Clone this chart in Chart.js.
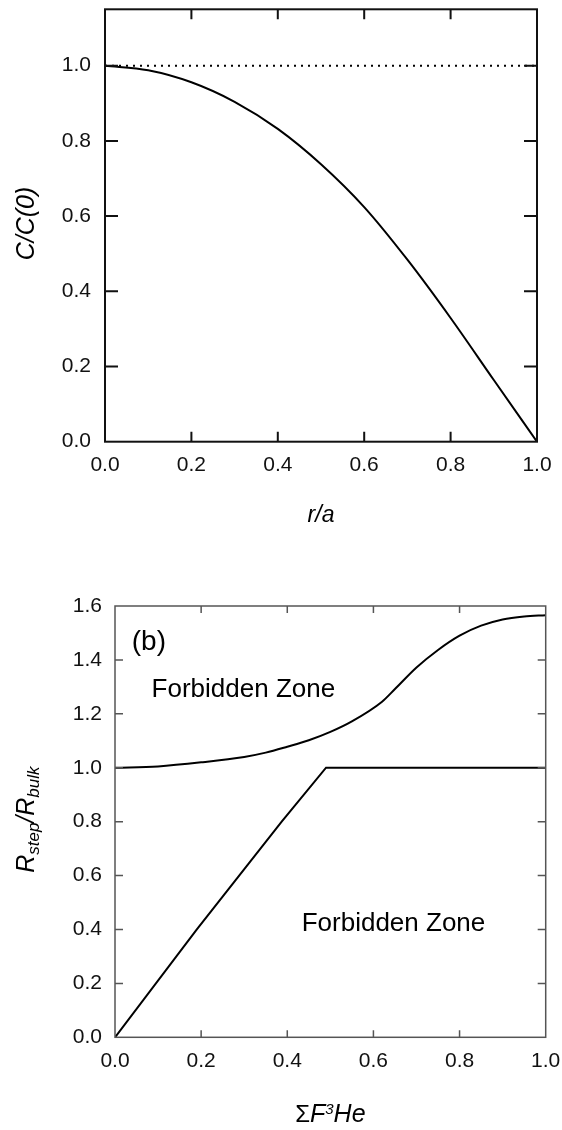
<!DOCTYPE html>
<html>
<head>
<meta charset="utf-8">
<script src="https://cdn.jsdelivr.net/npm/chart.js@4.4.1/dist/chart.umd.min.js"></script>
<style>
  html, body { margin: 0; padding: 0; background: #fff; }
  #wrap { position: relative; width: 562px; height: 1130px; }
  canvas { position: absolute; left: 0; }
  #profile { top: 0; }
  #ratio { top: 565px; }
</style>
</head>
<body>
<div id="wrap">
  <canvas id="profile" width="562" height="565"></canvas>
  <canvas id="ratio" width="562" height="565"></canvas>
</div>
<script>
const FAMILY = "'Liberation Sans', Arial, Helvetica, sans-serif";

// (a) normalised concentration across the channel
const rOverA  = [0, 0.1, 0.2, 0.3, 0.4, 0.5, 0.6, 0.7, 0.8, 0.9, 1.0];
const cOverC0 = [1.0, 0.988, 0.956, 0.904, 0.832, 0.738, 0.624, 0.484, 0.329, 0.164, 0.0];
const refX = [0, 1.0];
const refY = [1.0, 1.0];

// (b) limits of R_step / R_bulk
const upperX = [0, 0.1, 0.2, 0.3, 0.35, 0.4, 0.45, 0.5, 0.55, 0.62, 0.65, 0.7, 0.75, 0.8, 0.85, 0.9, 0.95, 1.0];
const upperY = [1.0, 1.005, 1.02, 1.04, 1.056, 1.078, 1.102, 1.133, 1.172, 1.245, 1.292, 1.372, 1.437, 1.49, 1.527, 1.55, 1.561, 1.566];
const lowerX = [0, 0.19, 0.387, 0.49, 1.0];
const lowerY = [0, 0.4, 0.8, 1.0, 1.0];

const xTicks   = [0, 0.2, 0.4, 0.6, 0.8, 1.0];
const yTicksA  = [0, 0.2, 0.4, 0.6, 0.8, 1.0];
const yTicksB  = [0, 0.2, 0.4, 0.6, 0.8, 1.0, 1.2, 1.4, 1.6];

const pts = (xs, ys) => xs.map((x, i) => ({ x, y: ys[i] }));

function drawRuns(ctx, runs, cx, baseY, rotate) {
  ctx.save();
  ctx.translate(cx, baseY);
  if (rotate) ctx.rotate(-Math.PI / 2);
  const fontOf = r => `${r.italic ? 'italic ' : ''}${r.size}px ${FAMILY}`;
  let total = 0;
  runs.forEach(r => { ctx.font = fontOf(r); r.w = ctx.measureText(r.text).width; total += r.w; });
  let x = -total / 2;
  ctx.fillStyle = '#000';
  ctx.textAlign = 'left';
  ctx.textBaseline = 'alphabetic';
  runs.forEach(r => {
    ctx.font = fontOf(r);
    ctx.fillText(r.text, x, r.dy || 0);
    x += r.w;
  });
  ctx.restore();
}

// box round the plot, ticks pointing inward on all four sides
const framePlugin = {
  id: 'frame',
  afterDraw(chart, args, o) {
    const { ctx, chartArea: a, scales } = chart;
    ctx.save();
    ctx.strokeStyle = o.color;
    ctx.lineWidth = o.width;
    ctx.strokeRect(a.left, a.top, a.right - a.left, a.bottom - a.top);
    ctx.beginPath();
    scales.x.ticks.forEach(t => {
      const px = scales.x.getPixelForValue(t.value);
      if (px < a.left + 2 || px > a.right - 2) return;
      ctx.moveTo(px, a.bottom); ctx.lineTo(px, a.bottom - o.xLen);
      ctx.moveTo(px, a.top); ctx.lineTo(px, a.top + o.xLen);
    });
    scales.y.ticks.forEach(t => {
      const py = scales.y.getPixelForValue(t.value);
      if (py < a.top + 2 || py > a.bottom - 2) return;
      ctx.moveTo(a.left, py); ctx.lineTo(a.left + o.yLen, py);
      ctx.moveTo(a.right, py); ctx.lineTo(a.right - o.yLen, py);
    });
    ctx.stroke();
    ctx.restore();
  }
};

// axis titles (with sub/superscripts) and in-plot notes
const textPlugin = {
  id: 'texts',
  afterDraw(chart, args, o) {
    const { ctx, chartArea: a, scales } = chart;
    const midX = (a.left + a.right) / 2;
    const midY = (a.top + a.bottom) / 2;
    drawRuns(ctx, o.xTitle, midX + (o.xShift || 0), a.bottom + o.xBase, false);
    drawRuns(ctx, o.yTitle, o.yBase, midY + (o.yShift || 0), true);
    (o.notes || []).forEach(n => {
      ctx.save();
      ctx.font = `${n.size}px ${FAMILY}`;
      ctx.fillStyle = '#000';
      ctx.textAlign = 'left';
      ctx.textBaseline = 'alphabetic';
      ctx.fillText(n.text, scales.x.getPixelForValue(n.x), scales.y.getPixelForValue(n.y));
      ctx.restore();
    });
  }
};

function axis(min, max, tickList, pad, fit) {
  return {
    type: 'linear',
    min, max,
    grid: { display: false, drawTicks: false },
    border: { display: false },
    afterBuildTicks: s => { s.ticks = tickList.map(v => ({ value: v })); },
    afterFit: fit,
    ticks: {
      padding: pad,
      color: '#111',
      font: { family: FAMILY, size: 21 },
      callback: v => Number(v).toFixed(1)
    }
  };
}

const baseOptions = {
  responsive: false,
  animation: false,
  devicePixelRatio: 1,
  plugins: { legend: { display: false }, tooltip: { enabled: false } },
  elements: { point: { radius: 0 } }
};

new Chart(document.getElementById('profile'), {
  type: 'line',
  data: {
    datasets: [
      { data: pts(refX, refY), borderColor: '#000', borderWidth: 2, borderDash: [2, 5], tension: 0 },
      { data: pts(rOverA, cOverC0), borderColor: '#000', borderWidth: 2, cubicInterpolationMode: 'monotone' }
    ]
  },
  options: {
    ...baseOptions,
    layout: { padding: { top: 9.3, right: 25, left: 0, bottom: 0 } },
    scales: {
      x: axis(0, 1, xTicks, 10.5, s => { s.height = 123.3; s.paddingLeft = 0; s.paddingRight = 0; }),
      y: axis(0, 1.15, yTicksA, 14, s => { s.width = 105; s.paddingTop = 0; s.paddingBottom = 0; })
    },
    plugins: {
      ...baseOptions.plugins,
      frame: { color: '#111', width: 2, xLen: 10, yLen: 13 },
      texts: {
        xTitle: [{ text: 'r/a', italic: true, size: 23 }],
        xBase: 80,
        yTitle: [{ text: 'C/C(0)', italic: true, size: 25 }],
        yBase: 33.5,
        yShift: -2
      }
    }
  },
  plugins: [framePlugin, textPlugin]
});

new Chart(document.getElementById('ratio'), {
  type: 'line',
  data: {
    datasets: [
      { data: pts(upperX, upperY), borderColor: '#000', borderWidth: 2, cubicInterpolationMode: 'monotone' },
      { data: pts(lowerX, lowerY), borderColor: '#000', borderWidth: 2, tension: 0 }
    ]
  },
  options: {
    ...baseOptions,
    layout: { padding: { top: 41, right: 16.3, left: 0, bottom: 0 } },
    scales: {
      x: axis(0, 1, xTicks, 11.5, s => { s.height = 92.7; s.paddingLeft = 0; s.paddingRight = 0; }),
      y: axis(0, 1.6, yTicksB, 13, s => { s.width = 115; s.paddingTop = 0; s.paddingBottom = 0; })
    },
    plugins: {
      ...baseOptions.plugins,
      frame: { color: '#555', width: 1.5, xLen: 7, yLen: 8 },
      texts: {
        xTitle: [
          { text: 'Σ', size: 24 },
          { text: 'F', italic: true, size: 25 },
          { text: '3', italic: true, size: 15, dy: -8.5 },
          { text: 'He', italic: true, size: 25 }
        ],
        xBase: 85,
        yTitle: [
          { text: 'R', italic: true, size: 25 },
          { text: 'step', italic: true, size: 17, dy: 5 },
          { text: '/R', italic: true, size: 25 },
          { text: 'bulk', italic: true, size: 17, dy: 5 }
        ],
        yBase: 33.5,
        yShift: -2,
        notes: [
          { text: '(b)', x: 0.039, y: 1.437, size: 28 },
          { text: 'Forbidden Zone', x: 0.085, y: 1.261, size: 26 },
          { text: 'Forbidden Zone', x: 0.4335, y: 0.394, size: 26 }
        ]
      }
    }
  },
  plugins: [framePlugin, textPlugin]
});
</script>
</body>
</html>
